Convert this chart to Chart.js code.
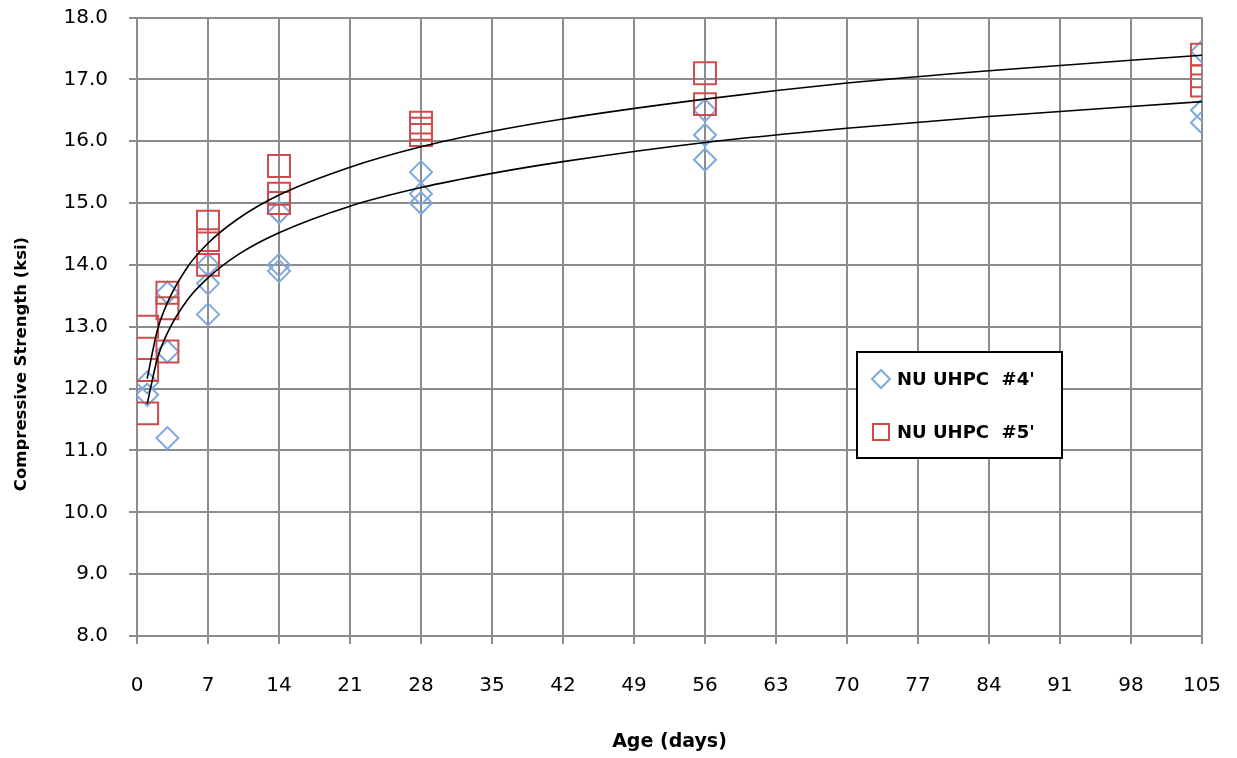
<!DOCTYPE html>
<html>
<head>
<meta charset="utf-8">
<script src="https://cdn.jsdelivr.net/npm/chart.js@4.4.0/dist/chart.umd.min.js"></script>
<style>
  html,body{margin:0;padding:0;background:#fff;}
  #wrap{position:relative;width:1237px;height:758px;}
</style>
</head>
<body>
<div id="wrap"><canvas id="c" width="1237" height="758"></canvas></div>
<script>
// ---- data ----
const seriesNames = ["NU UHPC  #4'", "NU UHPC  #5'"];
const ages4 = [1, 1, 3, 3, 3, 7, 7, 7, 14, 14, 14, 28, 28, 28, 56, 56, 56, 105, 105, 105];
const strength4 = [12.1, 11.9, 13.55, 12.6, 11.2, 14.0, 13.7, 13.2, 14.85, 14.0, 13.9, 15.5, 15.15, 15.0, 16.5, 16.1, 15.7, 17.45, 16.5, 16.3];
const ages5 = [1, 1, 1, 3, 3, 3, 7, 7, 7, 14, 14, 14, 28, 28, 28, 56, 56, 105, 105, 105];
const strength5 = [13.0, 12.3, 11.6, 13.55, 13.3, 12.6, 14.7, 14.4, 14.0, 15.6, 15.15, 15.0, 16.3, 16.2, 16.1, 17.1, 16.6, 17.4, 17.05, 16.9];
// trend lines
const trendAges = [1, 2, 3, 5, 7, 10, 14, 21, 28, 35, 42, 56, 70, 84, 105];
const trend4 = [11.75, 12.48, 12.90, 13.44, 13.79, 14.17, 14.52, 14.95, 15.25, 15.48, 15.67, 15.98, 16.21, 16.40, 16.64];
const trend5 = [12.16, 12.94, 13.39, 13.97, 14.35, 14.75, 15.13, 15.58, 15.91, 16.16, 16.36, 16.68, 16.94, 17.14, 17.39];
const xTitle = "Age (days)";
const yTitle = "Compressive Strength (ksi)";

const blue = "#7ea9dc";
const red = "#cf4b4b";
const pts = (xs, ys) => xs.map((x, i) => ({x: x, y: ys[i]}));

const decorPlugin = {
  id: 'decor',
  afterDraw(chart) {
    const ctx = chart.ctx;
    const ca = chart.chartArea;
    ctx.save();
    // axis titles
    ctx.fillStyle = '#000';
    ctx.textAlign = 'center';
    ctx.textBaseline = 'middle';
    ctx.font = 'bold 19px "DejaVu Sans"';
    ctx.fillText(xTitle, (ca.left + ca.right) / 2, 742);
    ctx.save();
    ctx.translate(22, 364);
    ctx.rotate(-Math.PI / 2);
    ctx.font = 'bold 16.5px "DejaVu Sans"';
    ctx.fillText(yTitle, 0, 0);
    ctx.restore();
    // legend
    const bx = 857, by = 352, bw = 205, bh = 106;
    ctx.fillStyle = '#fff';
    ctx.fillRect(bx, by, bw, bh);
    ctx.lineWidth = 2;
    ctx.strokeStyle = '#000';
    ctx.strokeRect(bx, by, bw, bh);
    ctx.font = 'bold 18px "DejaVu Sans"';
    ctx.textAlign = 'left';
    ctx.textBaseline = 'middle';
    ctx.fillStyle = '#000';
    let cx = 881, cy = 379;
    ctx.strokeStyle = blue; ctx.lineWidth = 2;
    ctx.beginPath();
    ctx.moveTo(cx, cy - 9); ctx.lineTo(cx + 9, cy); ctx.lineTo(cx, cy + 9); ctx.lineTo(cx - 9, cy); ctx.closePath();
    ctx.stroke();
    ctx.fillText(seriesNames[0], 897, cy + 1);
    cy = 432;
    ctx.strokeStyle = red;
    ctx.strokeRect(cx - 8, cy - 8, 16, 16);
    ctx.fillText(seriesNames[1], 897, cy + 1);
    ctx.restore();
  }
};

new Chart(document.getElementById('c'), {
  type: 'scatter',
  data: {
    datasets: [
      {
        label: seriesNames[0], data: pts(ages4, strength4),
        pointStyle: 'rectRot', pointRadius: 11, pointBorderWidth: 2,
        borderColor: blue, backgroundColor: 'rgba(0,0,0,0)', showLine: false, order: 2
      },
      {
        label: seriesNames[1], data: pts(ages5, strength5),
        pointStyle: 'rect', pointRadius: 15.5, pointBorderWidth: 2,
        borderColor: red, backgroundColor: 'rgba(0,0,0,0)', showLine: false, order: 1
      },
      {
        label: 'trend4', data: pts(trendAges, trend4), showLine: true,
        borderColor: '#000', borderWidth: 1.6, pointRadius: 0, tension: 0.4,
        cubicInterpolationMode: 'monotone', fill: false, order: 0
      },
      {
        label: 'trend5', data: pts(trendAges, trend5), showLine: true,
        borderColor: '#000', borderWidth: 1.6, pointRadius: 0, tension: 0.4,
        cubicInterpolationMode: 'monotone', fill: false, order: 0
      }
    ]
  },
  options: {
    responsive: false,
    animation: false,
    devicePixelRatio: 1,
    layout: { padding: { top: 16, right: 35, left: 0, bottom: 0 } },
    plugins: { legend: { display: false }, tooltip: { enabled: false } },
    scales: {
      x: {
        type: 'linear', min: 0, max: 105,
        afterFit(s) { s.height = 122; s.paddingLeft = 0; s.paddingRight = 0; },
        ticks: { stepSize: 7, padding: 30, color: '#000', font: { family: 'DejaVu Sans', size: 20 } },
        grid: { color: '#8c8c8c', lineWidth: 2, tickLength: 8 },
        border: { color: '#8c8c8c', width: 2 },
        title: { display: false }
      },
      y: {
        type: 'linear', min: 8, max: 18,
        afterFit(s) { s.width = 137; s.paddingTop = 0; s.paddingBottom = 0; },
        ticks: { stepSize: 1, padding: 21, color: '#000', font: { family: 'DejaVu Sans', size: 20 },
          callback: v => v.toFixed(1) },
        grid: { color: '#8c8c8c', lineWidth: 2, tickLength: 8 },
        border: { color: '#8c8c8c', width: 2 },
        title: { display: false }
      }
    }
  },
  plugins: [decorPlugin]
});
</script>
</body>
</html>
